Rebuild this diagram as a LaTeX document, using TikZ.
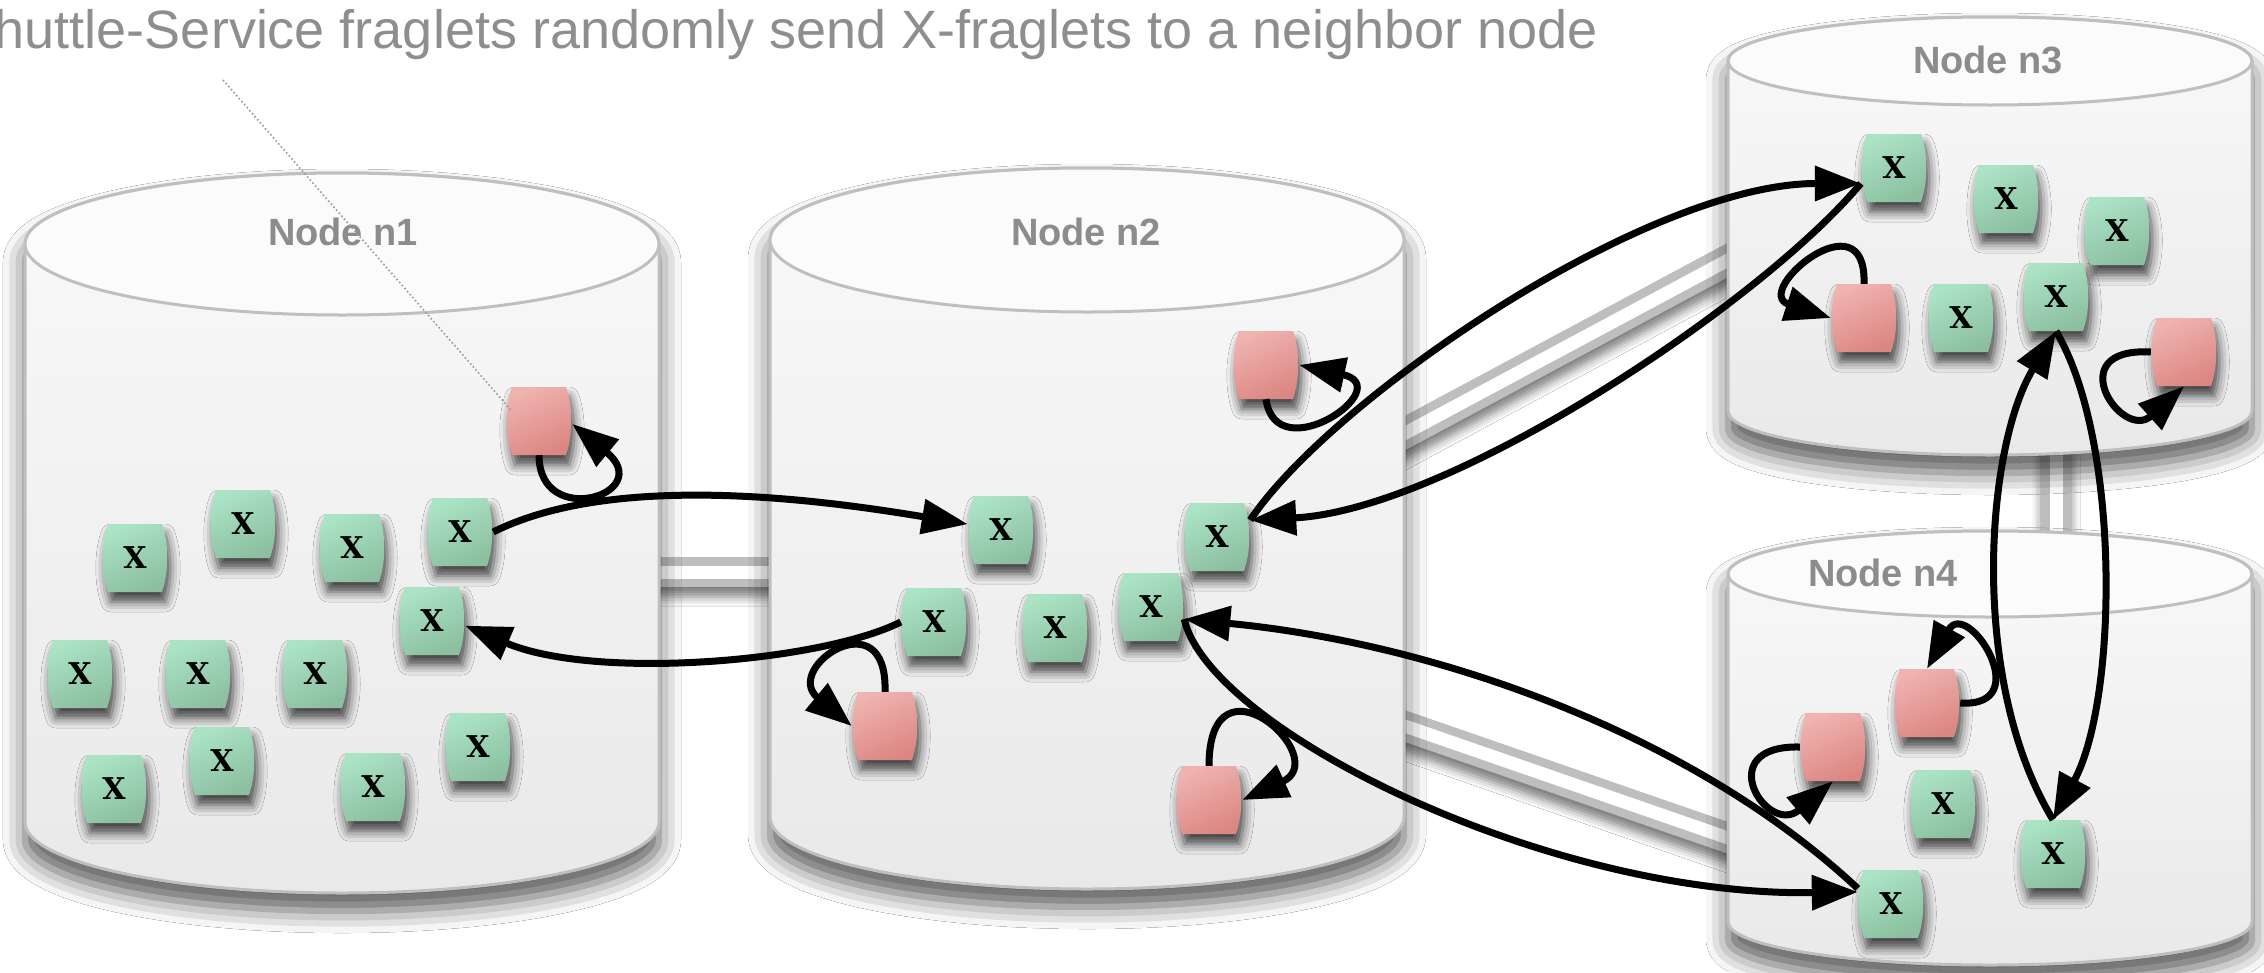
\documentclass[tikz,border=0pt]{standalone}
\usepackage{fontspec}
\usetikzlibrary{arrows.meta,shadows,shadows.blur,calc}
\newfontfamily\titlefam{Liberation Sans}
\newfontfamily\xfam{DejaVu Serif}

\definecolor{titlegray}{HTML}{8E8E8E}
\definecolor{labelgray}{HTML}{8C8C8C}
\definecolor{cylline}{HTML}{BFBFBF}
\definecolor{cyltopfill}{HTML}{FBFBFB}
\definecolor{cylhi}{HTML}{F9F9F9}
\definecolor{cyllo}{HTML}{E9E9E9}
\definecolor{pipegray}{HTML}{BEBEBE}
\definecolor{greenhi}{HTML}{ABE3C5}
\definecolor{greenlo}{HTML}{8BBFA0}
\definecolor{redhi}{HTML}{EFB3B0}
\definecolor{redlo}{HTML}{DC8682}
\definecolor{leadgray}{HTML}{9A9A9A}

\tikzset{
  cylshadow/.style={blur shadow={shadow xshift=0pt,shadow yshift=-18pt,shadow blur radius=22pt,shadow opacity=65}},
  cylbody/.style={top color=cylhi,bottom color=cyllo,draw=cylline,line width=3pt},
  cyltop/.style={fill=cyltopfill,draw=cylline,line width=3pt},
  pipeshadow/.style={blur shadow={shadow xshift=0pt,shadow yshift=-10pt,shadow blur radius=9pt,shadow opacity=50}},
  fragshadow/.style={blur shadow={shadow xshift=3pt,shadow yshift=-10pt,shadow blur radius=10pt,shadow opacity=72}},
  greenbarrel/.pic={\path[fragshadow,top color=greenhi,bottom color=greenlo,shading angle=25]
      (-27,-34) -- (27,-34) .. controls (34,-15) and (34,15) .. (27,34) -- (-27,34) .. controls (-34,15) and (-34,-15) .. cycle;},
  redbarrel/.pic={\path[fragshadow,top color=redhi,bottom color=redlo,shading angle=25]
      (-27,-34) -- (27,-34) .. controls (34,-15) and (34,15) .. (27,34) -- (-27,34) .. controls (-34,15) and (-34,-15) .. cycle;},
  fragbox/.style={rectangle,minimum width=66pt,minimum height=68pt,inner sep=0pt,
      font=\xfam\bfseries\fontsize{30pt}{30pt}\selectfont},
  nodelabel/.style={font=\titlefam\bfseries\fontsize{38pt}{42pt}\selectfont,text=labelgray,inner sep=0pt},
  conn/.style={line width=7pt,-{Triangle[length=46pt,width=34pt,fill=black]}},
}

% fraglets: name, x, y
\newcommand\xfrag[3]{\pic at (#2,#3) {greenbarrel}; \node[fragbox] (#1) at (#2,#3) {X};}
\newcommand\rfrag[3]{\pic at (#2,#3) {redbarrel}; \node[fragbox] (#1) at (#2,#3) {};}

% cylinder: centre x, top y, bottom y, x radius, y radius
\newcommand\cylinder[5]{%
  \path[cylshadow,cylbody] (#1-#4,#2) -- (#1-#4,#3)
     arc[start angle=180,end angle=360,x radius=#4pt,y radius=#5pt] -- (#1+#4,#2)
     arc[start angle=0,end angle=180,x radius=#4pt,y radius=#5pt] -- cycle;
  \path[cyltop] (#1,#2) ellipse[x radius=#4pt,y radius=#5pt];}

% link tube between two stores
\newcommand\pipe[4]{%
  \coordinate (pa) at (#1,#2); \coordinate (pb) at (#3,#4);
  \path[pipeshadow,fill=pipegray] ($(pa)!15pt!90:(pb)$) -- ($(pb)!15pt!-90:(pa)$)
     -- ($(pb)!15pt!90:(pa)$) -- ($(pa)!15pt!-90:(pb)$) -- cycle;
  \draw[white,line width=13pt] (pa) -- (pb);}

\begin{document}
\begin{tikzpicture}[x=1pt,y=-1pt]
\useasboundingbox (0,0) rectangle (2264,972);
\fill[white] (0,0) rectangle (2264,972);
\clip (0,0) rectangle (2264,972);

% links
\pipe{600}{572}{830}{572}
\pipe{1370}{452}{1760}{243}
\pipe{1370}{714}{1760}{849}
\pipe{2056}{400}{2056}{600}

% stores
\cylinder{342}{244}{822}{317}{71}
\cylinder{1087}{240}{817}{317}{72}
\cylinder{1990}{61}{411}{262}{44}
\cylinder{1990}{574}{922}{262}{43}

\node[nodelabel] (t1) at (343,232) {Node n1};
\node[nodelabel] (t2) at (1086,232) {Node n2};
\node[nodelabel] (t3) at (1988,60) {Node n3};
\node[nodelabel] (t4) at (1883,573) {Node n4};

\node[anchor=base east,inner sep=0pt,text=titlegray,font=\titlefam\fontsize{54pt}{60pt}\selectfont] (title)
  at (1598,48) {Shuttle-Service fraglets randomly send X-fraglets to a neighbor node};

% node n1
\rfrag{r1}{539}{421}
\xfrag{a1}{460}{532}
\xfrag{a2}{352}{548}
\xfrag{a3}{243}{524}
\xfrag{a4}{135}{558}
\xfrag{a5}{432}{621}
\xfrag{a6}{80}{674}
\xfrag{a7}{198}{674}
\xfrag{a8}{315}{674}
\xfrag{a9}{222}{761}
\xfrag{a10}{114}{789}
\xfrag{a11}{373}{787}
\xfrag{a12}{478}{747}

% node n2
\rfrag{r2}{1266}{365}
\rfrag{r3}{885}{726}
\rfrag{r4}{1209}{800}
\xfrag{b1}{1001}{530}
\xfrag{b2}{1217}{537}
\xfrag{b3}{934}{622}
\xfrag{b4}{1055}{628}
\xfrag{b5}{1151}{607}

% node n3
\xfrag{c1}{1894}{168}
\xfrag{c2}{2006}{199}
\xfrag{c3}{2117}{231}
\xfrag{c4}{2056}{297}
\xfrag{c5}{1961}{318}
\rfrag{r5}{1864}{318}
\rfrag{r6}{2184}{352}

% node n4
\rfrag{r7}{1927}{703}
\rfrag{r8}{1833}{747}
\xfrag{d1}{1943}{804}
\xfrag{d2}{2053}{854}
\xfrag{d3}{1891}{904}

% caption leader
\coordinate (leadstart) at (223,80);
\coordinate (leadend) at ($(r1.west)+(6,-10)$);
\draw[leadgray,line width=1.6pt,dash pattern=on 1.6pt off 2.4pt] (leadstart) -- (leadend);

% transfers between stores
\draw[conn] (a1.east) .. controls +(120,-60) and +(-150,-25) .. (b1.170);
\draw[conn] (b3.west) .. controls +(-80,40) and +(130,55) .. (a5.-8);
\draw[conn] (b2.27) .. controls +(80,-120) and +(-215,0) .. (c1.205);
\draw[conn] (c1.205) .. controls +(-100,120) and +(200,-10) .. (b2.27);
\draw[conn] (b5.-20) .. controls +(25,110) and +(-310,5) .. (d3.160);
\draw[conn] (d3.155) .. controls +(-160,-150) and +(260,25) .. (b5.-20);
\draw[conn] (d2.north) .. controls +(-85,-140) and +(-70,115) .. (c4.south);
\draw[conn] (c4.south) .. controls +(65,110) and +(65,-120) .. (d2.north);

% shuttle services acting on themselves
\draw[conn] (r1.south) .. controls +(0,75) and +(85,70) .. (r1.-5);
\draw[conn] (r2.south) .. controls +(10,72) and +(100,22) .. (r2.east);
\draw[conn] (r3.north) .. controls +(3,-95) and +(-70,-58) .. (r3.west);
\draw[conn] (r4.north) .. controls +(0,-120) and +(92,-42) .. (r4.east);
\draw[conn] (r5.north) .. controls +(3,-90) and +(-80,-26) .. (r5.west);
\draw[conn] (r6.west) .. controls +(-92,-5) and +(-62,56) .. (r6.south);
\draw[conn] (r7.east) .. controls +(78,5) and +(40,-72) .. (r7.north);
\draw[conn] (r8.west) .. controls +(-90,-2) and +(-66,56) .. (r8.south);
\end{tikzpicture}
\end{document}
